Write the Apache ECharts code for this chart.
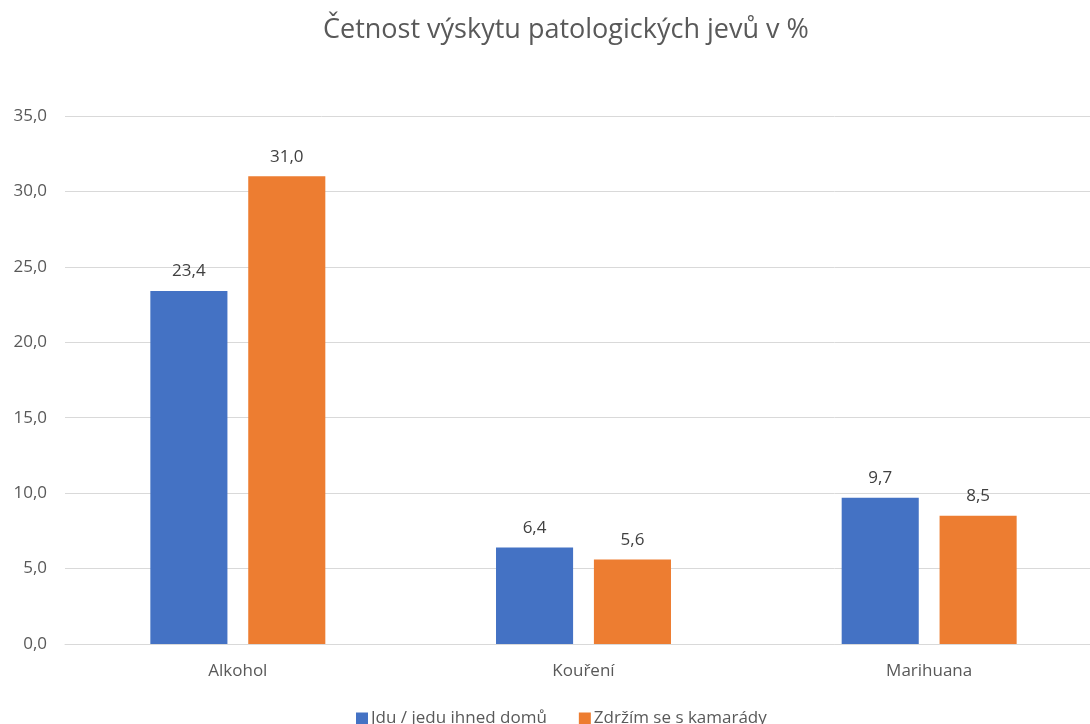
<!DOCTYPE html>
<html><head><meta charset="utf-8">
<script src="https://cdn.jsdelivr.net/npm/echarts@6/dist/echarts.min.js"></script>
<style>html,body{margin:0;padding:0;background:#fff}#c{width:1090px;height:724px}</style>
</head><body><div id="c"></div>
<script>
const categories = ['Alkohol', 'Kouření', 'Marihuana'];
const seriesNames = ['Jdu / jedu ihned domů', 'Zdržím se s kamarády'];
const homeValues = [23.4, 6.4, 9.7];
const friendsValues = [31.0, 5.6, 8.5];
const colors = ['#4472C4', '#ED7D31'];
const fmt = v => v.toFixed(1).replace('.', ',');
const FONT = 'Open Sans';
const chart = echarts.init(document.getElementById('c'), null, {renderer: 'canvas'});
chart.setOption({
  animation: false,
  textStyle: {fontFamily: FONT},
  title: {text: 'Četnost výskytu patologických jevů v %', left: 318, top: 12,
    textStyle: {fontFamily: FONT, fontSize: 27, fontWeight: 'normal', color: '#595959'}},
  legend: {left: 351, bottom: -8, itemWidth: 12, itemHeight: 12, itemGap: 32, icon: 'rect',
    textStyle: {fontFamily: FONT, fontSize: 17, color: '#595959', padding: [0, 0, 0, -2]}},
  grid: {left: 65, width: 1037, top: 116, bottom: 80, containLabel: false, outerBoundsMode: 'none'},
  xAxis: {type: 'category', data: categories,
    axisLine: {lineStyle: {color: '#D9D9D9', width: 1}}, axisTick: {show: false},
    axisLabel: {fontFamily: FONT, fontSize: 17, color: '#595959', margin: 19}},
  yAxis: {type: 'value', min: 0, max: 35, interval: 5,
    axisLine: {show: false}, axisTick: {show: false},
    splitLine: {lineStyle: {color: '#D9D9D9', width: 1}},
    axisLabel: {fontFamily: FONT, fontSize: 17, color: '#595959', margin: 18, formatter: v => fmt(v)}},
  series: [homeValues, friendsValues].map((d, i) => ({
    name: seriesNames[i], type: 'bar', data: d, barWidth: '22.3%', barGap: '27%',
    itemStyle: {color: colors[i]},
    label: {show: true, position: 'top', distance: 11, fontFamily: FONT, fontSize: 17, color: '#404040', formatter: p => fmt(p.value)}
  }))
});
</script></body></html>
